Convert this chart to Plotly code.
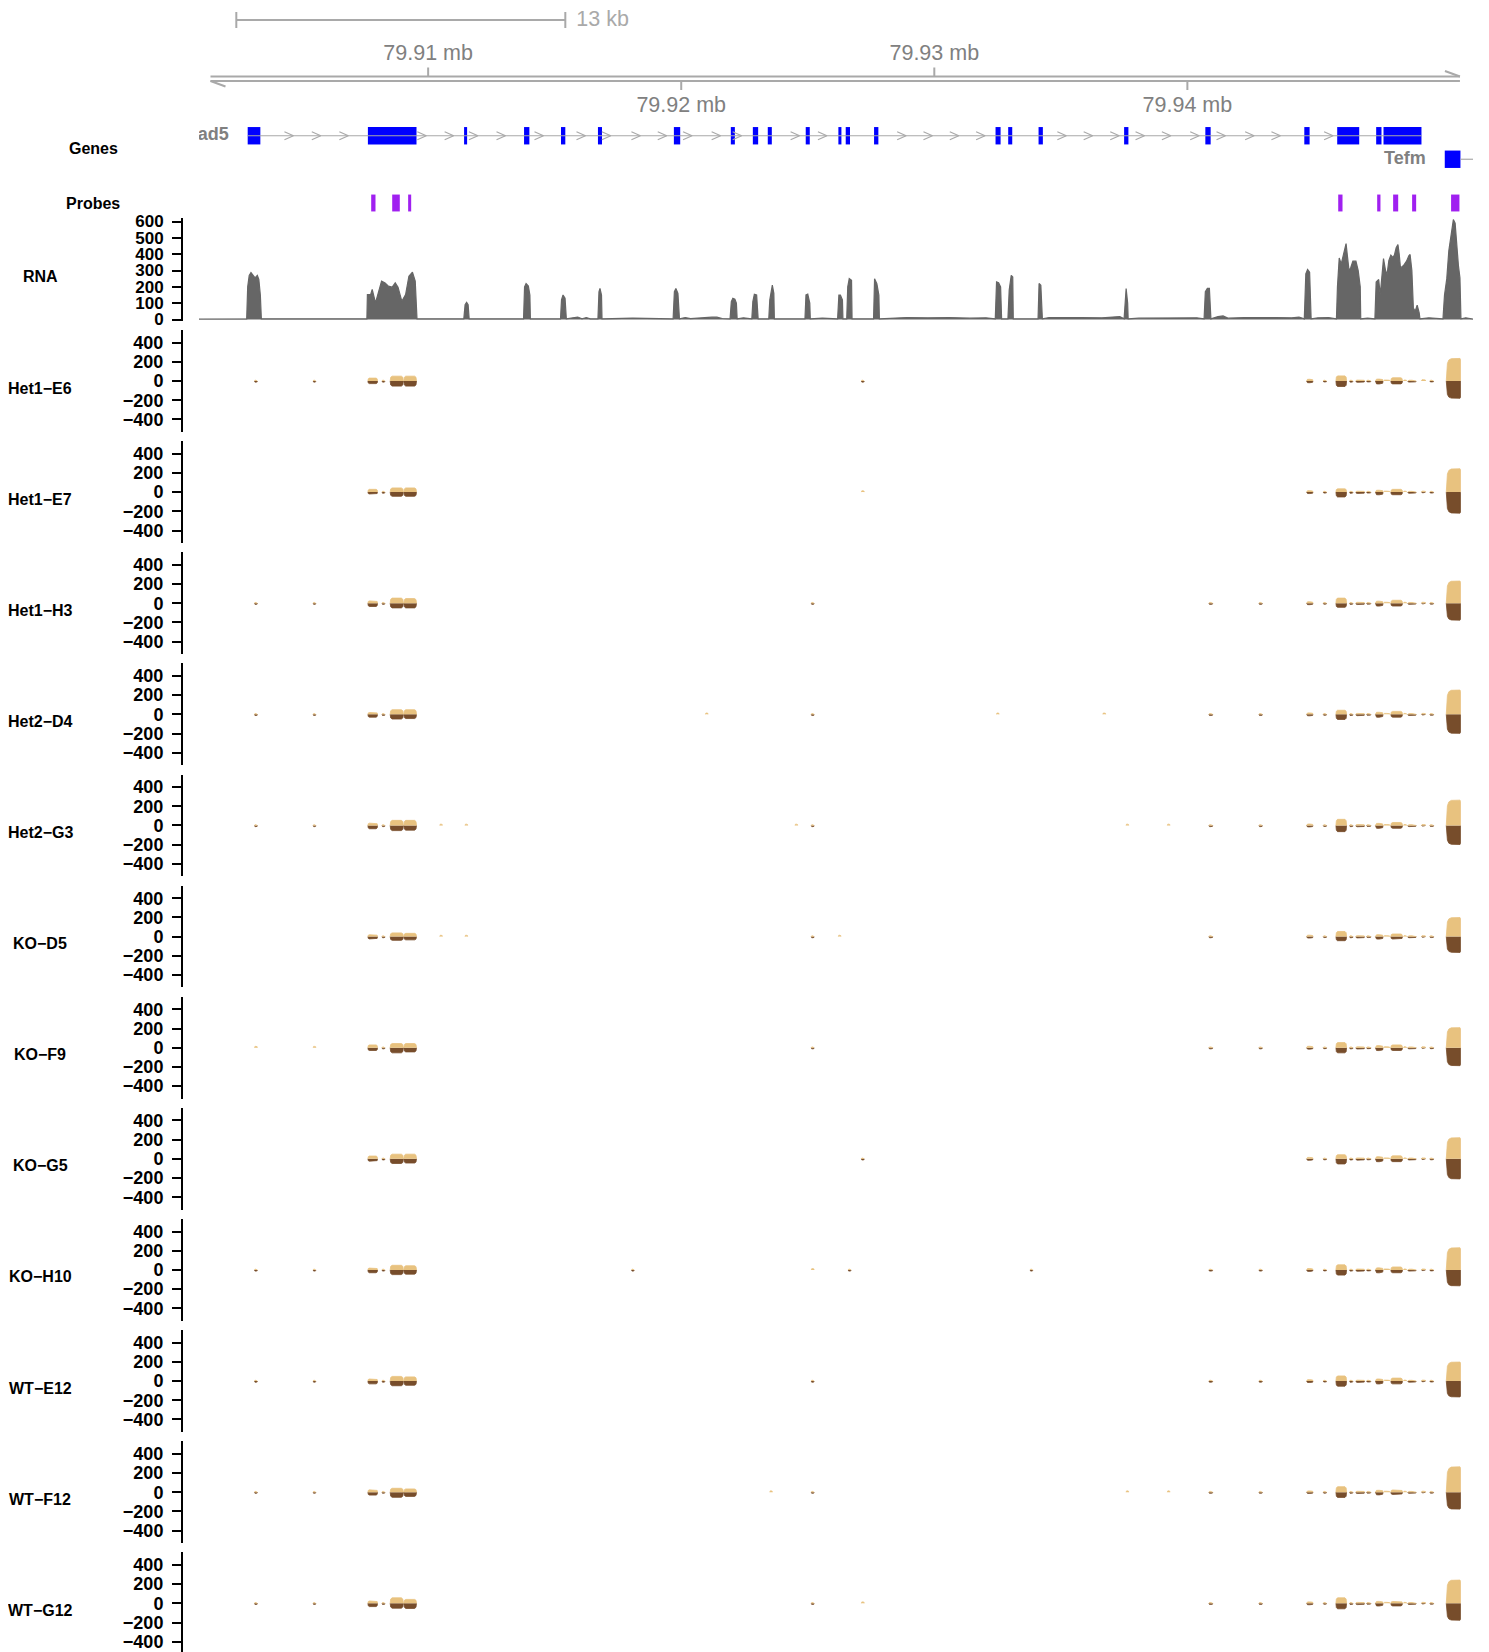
import plotly.graph_objects as go

# ======================= DATA =======================
AXIS_TICKS_KB = [79910, 79920, 79930, 79940]
AXIS_TICK_LABELS = ["79.91 mb", "79.92 mb", "79.93 mb", "79.94 mb"]
AXIS_LINE_KB = [79901.40, 79950.77]
SCALE_BAR_KB = [79902.42, 79915.42]
SCALE_BAR_LABEL = "13 kb"

GENE_NAMES = ["Atad5", "Tefm"]
ATAD5_EXON_START = [79902.87, 79907.62, 79911.42, 79913.79, 79915.25, 79916.71, 79919.71, 79921.96,
                    79922.83, 79923.42, 79924.92, 79926.21, 79926.50, 79927.62, 79932.42, 79932.92,
                    79934.12, 79937.50, 79940.71, 79944.62, 79945.92, 79947.46, 79947.75]
ATAD5_EXON_END = [79903.37, 79909.54, 79911.54, 79914.00, 79915.42, 79916.87, 79919.96, 79922.12,
                  79923.04, 79923.58, 79925.08, 79926.33, 79926.67, 79927.79, 79932.62, 79933.08,
                  79934.29, 79937.67, 79940.92, 79944.83, 79946.79, 79947.67, 79949.25]
ATAD5_CHEVRON_KB = [79904.50, 79905.58, 79906.67, 79909.75, 79910.83, 79911.79, 79912.88, 79914.38,
                    79916.04, 79917.04, 79918.21, 79919.25, 79920.25, 79921.38, 79922.21, 79924.50,
                    79925.58, 79928.71, 79929.75, 79930.79, 79931.83, 79935.04, 79936.08, 79937.13,
                    79938.13, 79939.17, 79940.29, 79941.33, 79942.46, 79943.50, 79945.58]
TEFM_EXON_START = [79950.17]
TEFM_EXON_END = [79950.79]
TEFM_LINE_END_KB = 79952.00

PROBE_START = [79907.75, 79908.58, 79909.21, 79945.96, 79947.50, 79948.13, 79948.88, 79950.42]
PROBE_END = [79907.92, 79908.88, 79909.33, 79946.13, 79947.63, 79948.33, 79949.04, 79950.75]

RNA_KB = [
    79900.91, 79902.83, 79902.87, 79902.93, 79903.00, 79903.08, 79903.16, 79903.25, 79903.31, 79903.37, 79903.41,
    79907.58, 79907.60, 79907.73, 79907.79, 79907.92, 79908.01, 79908.16, 79908.30, 79908.43, 79908.58, 79908.70,
    79908.81, 79908.96, 79909.11, 79909.24, 79909.38, 79909.49, 79909.56,
    79911.41, 79911.46, 79911.52, 79911.58, 79911.62,
    79913.77, 79913.81, 79913.87, 79913.96, 79914.02, 79914.04,
    79915.23, 79915.27, 79915.33, 79915.41, 79915.46,
    79915.91, 79916.08, 79916.25, 79916.41,
    79916.71, 79916.75, 79916.79, 79916.85, 79916.87,
    79918.08, 79918.91,
    79919.68, 79919.73, 79919.79, 79919.87, 79919.93,
    79920.16, 79920.37, 79921.21, 79921.41, 79921.62,
    79921.93, 79921.98, 79922.04, 79922.12, 79922.18, 79922.21,
    79922.46,
    79922.79, 79922.83, 79922.89, 79922.98, 79923.04,
    79923.46, 79923.50, 79923.54, 79923.60, 79923.66, 79923.68,
    79924.89, 79924.93, 79925.00, 79925.08, 79925.10,
    79925.58,
    79926.18, 79926.23, 79926.29, 79926.37, 79926.39,
    79926.54, 79926.58, 79926.64, 79926.73, 79926.75,
    79927.60, 79927.64, 79927.73, 79927.81, 79927.83,
    79928.29, 79928.91, 79929.75, 79930.58, 79931.41, 79932.04,
    79932.41, 79932.46, 79932.54, 79932.62, 79932.66,
    79932.91, 79932.96, 79933.00, 79933.04, 79933.10, 79933.12,
    79934.10, 79934.14, 79934.21, 79934.27,
    79934.54, 79935.16, 79935.79, 79936.62, 79937.33,
    79937.50, 79937.54, 79937.58, 79937.64, 79937.66,
    79938.08, 79938.91, 79939.75, 79940.37,
    79940.66, 79940.71, 79940.79, 79940.87, 79940.93,
    79941.21, 79941.41, 79941.62, 79942.25, 79942.87, 79943.50, 79944.12, 79944.41,
    79944.62, 79944.68, 79944.75, 79944.83, 79944.89,
    79945.16, 79945.58,
    79945.89, 79945.93, 79946.00, 79946.08, 79946.14, 79946.27, 79946.33, 79946.39, 79946.46, 79946.54,
    79946.66, 79946.75, 79946.83, 79946.85,
    79947.12,
    79947.41, 79947.46, 79947.56, 79947.62, 79947.75, 79947.83, 79947.89, 79947.96, 79948.04, 79948.12,
    79948.18, 79948.25, 79948.32, 79948.37, 79948.42, 79948.54, 79948.66, 79948.75, 79948.80, 79948.87,
    79948.93, 79949.00, 79949.08, 79949.16, 79949.19,
    79949.54, 79949.83,
    79950.10, 79950.16, 79950.25, 79950.33, 79950.41, 79950.51, 79950.58, 79950.64, 79950.71, 79950.77, 79950.81,
    79951.00, 79951.21, 79951.29]
RNA_COVERAGE = [
    3, 4, 200, 270, 288, 268, 255, 270, 245, 150, 4,
    4, 153, 153, 184, 102, 153, 235, 224, 204, 198, 224, 198, 112, 153, 265, 290, 235, 4,
    4, 90, 105, 90, 4,
    4, 200, 220, 205, 150, 4,
    4, 120, 150, 130, 4,
    15, 4, 12, 4,
    4, 170, 190, 150, 4,
    8, 6,
    4, 170, 190, 160, 4,
    12, 6, 14, 14, 6,
    4, 110, 130, 125, 100, 4,
    10,
    4, 110, 155, 150, 4,
    4, 120, 150, 210, 160, 4,
    4, 150, 155, 100, 4,
    8,
    4, 150, 150, 120, 4,
    4, 200, 250, 240, 4,
    4, 250, 220, 150, 4,
    8, 12, 10, 12, 8, 10,
    4, 230, 225, 200, 4,
    4, 180, 230, 270, 260, 4,
    4, 220, 210, 4,
    12, 10, 12, 10, 18,
    4, 150, 190, 100, 4,
    8, 10, 8, 10,
    4, 170, 190, 190, 4,
    18, 22, 8, 12, 14, 12, 10, 15,
    4, 280, 306, 290, 4,
    10, 12,
    4, 200, 377, 340, 380, 465, 380, 296, 320, 357, 357, 300, 200, 4,
    8,
    4, 230, 245, 150, 373, 300, 275, 360, 394, 380, 394, 440, 459, 400, 316, 330, 357, 390, 398, 300,
    71, 50, 88, 40, 4,
    10, 8,
    4, 150, 250, 420, 520, 612, 590, 450, 330, 255, 4,
    10, 6, 3]

SAMPLES = ["Het1\u2212E6", "Het1\u2212E7", "Het1\u2212H3", "Het2\u2212D4", "Het2\u2212G3", "KO\u2212D5",
           "KO\u2212F9", "KO\u2212G5", "KO\u2212H10", "WT\u2212E12", "WT\u2212F12", "WT\u2212G12"]

REGION_START = [79903.14, 79905.46, 79907.62, 79908.18, 79908.50, 79909.04, 79910.46, 79911.46, 79918.04,
                79920.96, 79923.50, 79924.50, 79925.14, 79926.21, 79926.60, 79927.12, 79932.46, 79933.79,
                79936.66, 79937.58, 79939.21, 79940.85, 79942.83, 79944.71, 79945.37, 79945.87, 79946.41,
                79946.66, 79947.08, 79947.43, 79947.75, 79948.04, 79948.54, 79948.71, 79949.25, 79949.58,
                79950.23]
REGION_END = [79903.25, 79905.56, 79908.00, 79908.29, 79909.02, 79909.54, 79910.56, 79911.56, 79918.14,
              79921.06, 79923.60, 79924.60, 79925.25, 79926.31, 79926.71, 79927.23, 79932.56, 79933.89,
              79936.77, 79937.68, 79939.31, 79941.00, 79942.96, 79944.96, 79945.50, 79946.29, 79946.54,
              79947.00, 79947.25, 79947.73, 79948.00, 79948.50, 79948.66, 79949.04, 79949.41, 79949.73,
              79950.79]

HET1_E6_UP = [8, 8, 31, 8, 52, 52, 0, 0, 0, 0, 0, 0, 0, 0, 0, 8, 0, 0, 0, 0, 0, 0, 0,
              18, 8, 55, 8, 10, 8, 20, 10, 35, 10, 8, 14, 8, 235]
HET1_E6_DOWN = [12, 12, 28, 12, 55, 55, 0, 0, 0, 0, 0, 0, 0, 0, 0, 12, 0, 0, 0, 0, 0, 0, 0,
                18, 10, 59, 12, 14, 10, 31, 0, 31, 0, 12, 0, 10, 180]
HET1_E7_UP = [0, 0, 30, 8, 45, 45, 0, 0, 0, 0, 0, 0, 0, 0, 0, 14, 0, 0, 0, 0, 0, 0, 0,
              15, 8, 35, 8, 10, 8, 20, 10, 30, 10, 8, 10, 8, 243]
HET1_E7_DOWN = [0, 0, 20, 12, 45, 45, 0, 0, 0, 0, 0, 0, 0, 0, 0, 0, 0, 0, 0, 0, 0, 0, 0,
                15, 10, 52, 12, 14, 10, 28, 0, 28, 0, 12, 6, 10, 219]
HET1_H3_UP = [8, 8, 25, 8, 55, 50, 0, 0, 0, 0, 0, 0, 8, 0, 0, 0, 0, 0, 0, 0, 0, 8, 8,
              15, 8, 55, 8, 10, 8, 22, 10, 32, 10, 8, 10, 8, 231]
HET1_H3_DOWN = [12, 12, 35, 12, 50, 50, 0, 0, 0, 0, 0, 0, 12, 0, 0, 0, 0, 0, 0, 0, 0, 12, 12,
                15, 10, 44, 12, 14, 10, 30, 0, 30, 0, 12, 6, 10, 176]
HET2_D4_UP = [8, 8, 20, 8, 50, 50, 0, 0, 0, 14, 0, 0, 8, 0, 0, 0, 14, 0, 14, 0, 0, 8, 8,
              15, 8, 44, 8, 10, 8, 22, 10, 32, 10, 8, 10, 8, 253]
HET2_D4_DOWN = [12, 12, 30, 12, 50, 45, 0, 0, 0, 0, 0, 0, 12, 0, 0, 0, 0, 0, 0, 0, 0, 12, 12,
                15, 10, 55, 12, 14, 10, 30, 0, 30, 0, 12, 6, 10, 198]
HET2_G3_UP = [8, 8, 25, 8, 55, 55, 14, 14, 0, 0, 0, 14, 8, 0, 0, 0, 0, 0, 0, 14, 14, 8, 8,
              15, 8, 66, 8, 10, 8, 22, 10, 32, 10, 8, 10, 8, 264]
HET2_G3_DOWN = [12, 12, 35, 12, 55, 50, 0, 0, 0, 0, 0, 0, 12, 0, 0, 0, 0, 0, 0, 0, 0, 12, 12,
                15, 10, 66, 12, 14, 10, 30, 0, 30, 0, 12, 6, 10, 198]
KO_D5_UP = [0, 0, 20, 8, 40, 35, 14, 14, 0, 0, 0, 0, 8, 14, 0, 0, 0, 0, 0, 0, 0, 8, 0,
            15, 8, 55, 8, 10, 8, 20, 10, 28, 10, 8, 10, 8, 198]
KO_D5_DOWN = [0, 0, 25, 12, 40, 35, 0, 0, 0, 0, 0, 0, 12, 0, 0, 0, 0, 0, 0, 0, 0, 12, 0,
              15, 10, 44, 12, 14, 10, 26, 0, 26, 0, 12, 6, 10, 165]
KO_F9_UP = [14, 14, 30, 8, 45, 45, 0, 0, 0, 0, 0, 0, 8, 0, 0, 0, 0, 0, 0, 0, 0, 8, 8,
            15, 8, 55, 8, 10, 8, 22, 10, 30, 10, 8, 10, 8, 209]
KO_F9_DOWN = [0, 0, 30, 12, 55, 45, 0, 0, 0, 0, 0, 0, 12, 0, 0, 0, 0, 0, 0, 0, 0, 12, 12,
              15, 10, 55, 12, 14, 10, 30, 0, 30, 0, 12, 6, 10, 187]
KO_G5_UP = [0, 0, 30, 8, 50, 50, 0, 0, 0, 0, 0, 0, 0, 0, 0, 8, 0, 0, 0, 0, 0, 0, 0,
            15, 8, 44, 8, 10, 8, 22, 10, 32, 10, 8, 10, 8, 220]
KO_G5_DOWN = [0, 0, 25, 12, 50, 45, 0, 0, 0, 0, 0, 0, 0, 0, 0, 12, 0, 0, 0, 0, 0, 0, 0,
              15, 10, 55, 12, 14, 10, 30, 0, 30, 0, 12, 6, 10, 209]
KO_H10_UP = [8, 8, 20, 8, 50, 45, 0, 0, 8, 0, 0, 0, 14, 0, 8, 0, 0, 8, 0, 0, 0, 8, 8,
             15, 8, 55, 8, 10, 8, 22, 10, 32, 10, 8, 10, 8, 231]
KO_H10_DOWN = [12, 12, 30, 12, 50, 45, 0, 0, 12, 0, 0, 0, 0, 0, 12, 0, 0, 12, 0, 0, 0, 12, 12,
               15, 10, 55, 12, 14, 10, 30, 0, 30, 0, 12, 6, 10, 165]
WT_E12_UP = [8, 8, 22, 8, 50, 45, 0, 0, 0, 0, 0, 0, 8, 0, 0, 0, 0, 0, 0, 0, 0, 8, 8,
             15, 8, 55, 8, 10, 8, 22, 10, 32, 10, 8, 10, 8, 198]
WT_E12_DOWN = [12, 12, 30, 12, 50, 45, 0, 0, 0, 0, 0, 0, 12, 0, 0, 0, 0, 0, 0, 0, 0, 12, 12,
               15, 10, 55, 12, 14, 10, 30, 0, 30, 0, 12, 6, 10, 165]
WT_F12_UP = [8, 8, 25, 8, 42, 35, 0, 0, 0, 0, 14, 0, 8, 0, 0, 0, 0, 0, 0, 14, 14, 8, 8,
             13, 8, 59, 8, 10, 8, 20, 10, 24, 10, 8, 10, 8, 264]
WT_F12_DOWN = [12, 12, 31, 12, 55, 45, 0, 0, 0, 0, 0, 0, 12, 0, 0, 0, 0, 0, 0, 0, 0, 12, 12,
               13, 10, 56, 12, 14, 10, 28, 0, 24, 0, 12, 6, 10, 176]
WT_G12_UP = [8, 8, 25, 8, 59, 42, 0, 0, 0, 0, 0, 0, 8, 0, 0, 15, 0, 0, 0, 0, 0, 8, 8,
             15, 8, 59, 8, 10, 8, 20, 10, 20, 10, 8, 10, 8, 242]
WT_G12_DOWN = [12, 12, 35, 12, 52, 55, 0, 0, 0, 0, 0, 0, 12, 0, 0, 0, 0, 0, 0, 0, 0, 12, 12,
               15, 10, 59, 12, 14, 10, 28, 0, 28, 0, 12, 6, 10, 176]

SAMPLE_UP = [HET1_E6_UP, HET1_E7_UP, HET1_H3_UP, HET2_D4_UP, HET2_G3_UP, KO_D5_UP,
             KO_F9_UP, KO_G5_UP, KO_H10_UP, WT_E12_UP, WT_F12_UP, WT_G12_UP]
SAMPLE_DOWN = [HET1_E6_DOWN, HET1_E7_DOWN, HET1_H3_DOWN, HET2_D4_DOWN, HET2_G3_DOWN, KO_D5_DOWN,
               KO_F9_DOWN, KO_G5_DOWN, KO_H10_DOWN, WT_E12_DOWN, WT_F12_DOWN, WT_G12_DOWN]

RNA_TICKS = [0, 100, 200, 300, 400, 500, 600]
SAMPLE_TICKS = [-400, -200, 0, 200, 400]

# ======================= STYLE / LAYOUT =======================
SCREEN_W, SCREEN_H = 1489, 1652
OFF = 8                       # page body margin
W, H = SCREEN_W - OFF, SCREEN_H - OFF
FONT = "Liberation Sans, Arial, Helvetica, sans-serif"
BLUE = "#0000FF"
PURPLE = "#A020F0"
RNA_GRAY = "#666666"
TAN = "#E8C27F"
BROWN = "#774D2B"
LINE_GRAY = "#A9A9A9"
TEXT_GRAY = "#808080"

X_LEFT_PX, X_RIGHT_PX = 199, 1473          # screen pixels of the data panel
X_RANGE_KB = [79900.946, 79951.286]
KB_PER_PX = (X_RANGE_KB[1] - X_RANGE_KB[0]) / (X_RIGHT_PX - X_LEFT_PX)
YAXIS_POS = (182 - OFF) / W


def fx(px):
    return (px - OFF) / W


def fy(py):
    return 1 - (py - OFF) / H


def ydom(top, bottom):
    return [max(0.0, fy(bottom)), min(1.0, fy(top))]


fig = go.Figure()
layout = dict(
    width=W, height=H, margin=dict(l=0, r=0, t=0, b=0, autoexpand=False),
    paper_bgcolor="white", plot_bgcolor="white", showlegend=False,
    barmode="overlay", font=dict(family=FONT),
    xaxis=dict(domain=[fx(X_LEFT_PX), fx(X_RIGHT_PX)], range=X_RANGE_KB, visible=False,
               showgrid=False, zeroline=False, fixedrange=True),
)
hidden = dict(visible=False, showgrid=False, zeroline=False, fixedrange=True, anchor="x")


def seg(xs, ys, x0, y0, x1, y1):
    xs.extend([x0, x1, None])
    ys.extend([y0, y1, None])


# ---------- genome axis track (y) : y in screen pixel units ----------
TOP_LINE, BOT_LINE = 76.5, 81
layout["yaxis"] = dict(domain=ydom(OFF, 118), range=[118, OFF], **hidden)
ax_x, ax_y = [], []
seg(ax_x, ax_y, AXIS_LINE_KB[0], TOP_LINE, AXIS_LINE_KB[1], TOP_LINE)
seg(ax_x, ax_y, AXIS_LINE_KB[0], BOT_LINE, AXIS_LINE_KB[1], BOT_LINE)
seg(ax_x, ax_y, AXIS_LINE_KB[1], TOP_LINE, AXIS_LINE_KB[1] - 15 * KB_PER_PX, TOP_LINE - 5.5)
seg(ax_x, ax_y, AXIS_LINE_KB[0], BOT_LINE, AXIS_LINE_KB[0] + 15 * KB_PER_PX, BOT_LINE + 5.5)
lab_y = []
for i, t in enumerate(AXIS_TICKS_KB):
    if i % 2 == 0:
        seg(ax_x, ax_y, t, TOP_LINE, t, TOP_LINE - 9)
        lab_y.append(55)
    else:
        seg(ax_x, ax_y, t, BOT_LINE, t, BOT_LINE + 9)
        lab_y.append(107)
seg(ax_x, ax_y, SCALE_BAR_KB[0], 20, SCALE_BAR_KB[1], 20)
seg(ax_x, ax_y, SCALE_BAR_KB[0], 12, SCALE_BAR_KB[0], 28)
seg(ax_x, ax_y, SCALE_BAR_KB[1], 12, SCALE_BAR_KB[1], 28)
fig.add_trace(go.Scatter(x=ax_x, y=ax_y, mode="lines", line=dict(color=LINE_GRAY, width=2),
                         xaxis="x", yaxis="y", cliponaxis=False, hoverinfo="skip"))
fig.add_trace(go.Scatter(x=AXIS_TICKS_KB, y=lab_y, mode="text", text=AXIS_TICK_LABELS,
                         textposition="middle center", cliponaxis=False,
                         textfont=dict(family=FONT, size=21.5, color=TEXT_GRAY),
                         xaxis="x", yaxis="y", hoverinfo="skip"))
fig.add_trace(go.Scatter(x=[SCALE_BAR_KB[1] + 11 * KB_PER_PX], y=[21], mode="text", text=[SCALE_BAR_LABEL],
                         textposition="middle right", cliponaxis=False,
                         textfont=dict(family=FONT, size=21.5, color=LINE_GRAY),
                         xaxis="x", yaxis="y", hoverinfo="skip"))

# ---------- gene track (y2) ----------
layout["yaxis2"] = dict(domain=ydom(120, 175), range=[-0.67, 1.67], **hidden)
g_x, g_y = [], []
seg(g_x, g_y, ATAD5_EXON_START[0], 1, ATAD5_EXON_END[-1], 1)
seg(g_x, g_y, TEFM_EXON_END[-1], 0, TEFM_LINE_END_KB, 0)
hw, hh = 4.5 * KB_PER_PX, 4 / 23.5
for c in ATAD5_CHEVRON_KB:
    g_x.extend([c - hw, c + hw, c - hw, None])
    g_y.extend([1 + hh, 1, 1 - hh, None])
fig.add_trace(go.Scatter(x=g_x, y=g_y, mode="lines", line=dict(color=LINE_GRAY, width=1.2),
                         xaxis="x", yaxis="y2", hoverinfo="skip"))
ex_start = ATAD5_EXON_START + TEFM_EXON_START
ex_end = ATAD5_EXON_END + TEFM_EXON_END
ex_row = [1] * len(ATAD5_EXON_START) + [0] * len(TEFM_EXON_START)
fig.add_trace(go.Bar(base=ex_start, x=[e - s for s, e in zip(ex_start, ex_end)], y=ex_row,
                     orientation="h", width=0.74, marker=dict(color=BLUE, line=dict(width=0)),
                     xaxis="x", yaxis="y2", hoverinfo="skip"))
gap = 19 * KB_PER_PX
fig.add_trace(go.Scatter(x=[ATAD5_EXON_START[0] - gap, TEFM_EXON_START[0] - gap], y=[1, 0],
                         mode="text", text=GENE_NAMES, textposition="middle left", cliponaxis=True,
                         textfont=dict(family=FONT, size=18, color=TEXT_GRAY, weight="bold"),
                         xaxis="x", yaxis="y2", hoverinfo="skip"))

# ---------- probes (y3) ----------
layout["yaxis3"] = dict(domain=ydom(190, 216), range=[0, 1], **hidden)
fig.add_trace(go.Bar(base=PROBE_START, x=[e - s for s, e in zip(PROBE_START, PROBE_END)],
                     y=[0.5] * len(PROBE_START), orientation="h", width=0.65,
                     marker=dict(color=PURPLE, line=dict(width=0)),
                     xaxis="x", yaxis="y3", hoverinfo="skip"))


# ---------- y axis style ----------
def data_axis(domain, rng, ticks, size=18):
    return dict(domain=domain, range=rng, anchor="free", position=YAXIS_POS, side="left",
                showline=True, linecolor="black", linewidth=2, ticks="outside", ticklen=9,
                tickwidth=2, tickcolor="black", tickvals=ticks, showgrid=False, zeroline=False,
                fixedrange=True, ticklabelstandoff=5, ticklabeloverflow="allow",
                tickfont=dict(family=FONT, size=size, color="black", weight="bold"))


# ---------- RNA (y4) ----------
RNA_ZERO_PX, RNA_PX_PER = 319.5, 98 / 600
rna_rng = [-8, 620]
layout["yaxis4"] = data_axis(ydom(RNA_ZERO_PX - rna_rng[1] * RNA_PX_PER, RNA_ZERO_PX - rna_rng[0] * RNA_PX_PER),
                             rna_rng, RNA_TICKS, size=17)
fig.add_trace(go.Scatter(x=RNA_KB, y=RNA_COVERAGE, mode="lines", fill="tozeroy",
                         line=dict(color=RNA_GRAY, width=1.2), fillcolor=RNA_GRAY,
                         xaxis="x", yaxis="y4", hoverinfo="skip"))

# ---------- sample tracks (y5..y16) ----------
SHAPE_T = [0, 0.04, 0.15, 0.5, 0.85, 0.96, 1]
SHAPE_H = [0, 0.75, 0.97, 1, 0.97, 0.75, 0]
EDGE_T = [0, 0.02, 0.08, 0.18, 0.35, 0.97, 1, 1]
EDGE_H = [0, 0.45, 0.78, 0.93, 0.99, 1, 0.95, 0]


def polys(values, sign):
    xs, ys = [], []
    last = len(REGION_START) - 1
    for k, (s, e, v) in enumerate(zip(REGION_START, REGION_END, values)):
        if v <= 0:
            continue
        T, F = (EDGE_T, EDGE_H) if k == last else (SHAPE_T, SHAPE_H)
        for t, f in zip(T, F):
            xs.append(s + t * (e - s))
            ys.append(sign * v * f)
        xs.append(None)
        ys.append(None)
    return xs, ys


Z0, DZ, PX_PER = 381.0, 111.12, 0.096
HALF = 530
annotations = []
for i, name in enumerate(SAMPLES):
    z = Z0 + DZ * i
    top, bot = z - HALF * PX_PER, min(SCREEN_H, z + HALF * PX_PER)
    rng = [-(bot - z) / PX_PER, (z - top) / PX_PER]
    ya = "y%d" % (5 + i)
    layout["yaxis%d" % (5 + i)] = data_axis(ydom(top, bot), rng, SAMPLE_TICKS)
    bx, by = polys(SAMPLE_DOWN[i], -1)
    fig.add_trace(go.Scatter(x=bx, y=by, mode="lines", fill="toself", fillcolor=BROWN,
                             line=dict(color=BROWN, width=0.8), xaxis="x", yaxis=ya, hoverinfo="skip"))
    tx, ty = polys(SAMPLE_UP[i], 1)
    fig.add_trace(go.Scatter(x=tx, y=ty, mode="lines", fill="toself", fillcolor=TAN,
                             line=dict(color=TAN, width=0.8), xaxis="x", yaxis=ya, hoverinfo="skip"))
    annotations.append(dict(x=fx(40), y=fy(z + 7), xref="paper", yref="paper", text=name,
                            showarrow=False, xanchor="center", yanchor="middle",
                            font=dict(family=FONT, size=16, color="black", weight="bold")))

for label, cx, cy in [("Genes", 93, 148), ("Probes", 93, 203.5), ("RNA", 40, 276)]:
    annotations.append(dict(x=fx(cx), y=fy(cy), xref="paper", yref="paper", text=label,
                            showarrow=False, xanchor="center", yanchor="middle",
                            font=dict(family=FONT, size=16, color="black", weight="bold")))

layout["annotations"] = annotations
fig.update_layout(**layout)
fig.write_html("out.html")
